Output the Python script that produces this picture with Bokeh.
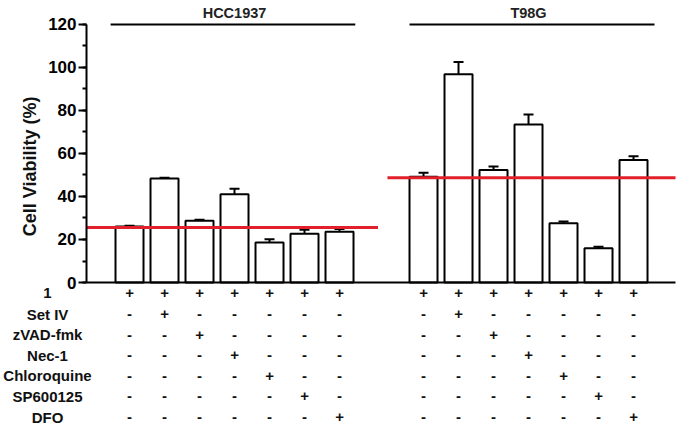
from bokeh.plotting import figure
from bokeh.models import (Range1d, SingleIntervalTicker, FixedTicker, ColumnDataSource,
                          Whisker, TeeHead)
from bokeh.core.properties import value
from bokeh.embed import file_html
from bokeh.resources import INLINE
import math

# ---- data ----
groups = ["HCC1937", "T98G"]
hcc_values = [26.1, 48.4, 28.7, 41.0, 18.6, 22.7, 23.6]
hcc_errors = [0.3, 0.3, 0.5, 2.6, 1.5, 1.8, 1.3]
t98_values = [49.2, 96.9, 52.3, 73.5, 27.6, 15.9, 57.0]
t98_errors = [1.8, 5.6, 1.7, 4.6, 0.8, 0.7, 1.7]
baseline_values = [25.6, 48.7]  # red reference lines
row_labels = ["1", "Set IV", "zVAD-fmk", "Nec-1", "Chloroquine", "SP600125", "DFO"]

FONT = "Liberation Sans"

# bar positions
hcc_x = [1 + i for i in range(7)]
t98_x = [9.4 + i for i in range(7)]
xs = hcc_x + t98_x
vals = hcc_values + t98_values
errs = hcc_errors + t98_errors

ax_left, ax_right = -0.2286, 16.6
p = figure(width=681, height=429, output_backend="svg", toolbar_location=None,
           x_range=Range1d(-2.686, 16.771), y_range=Range1d(-68.37, 131.16),
           min_border_left=0, min_border_right=0, min_border_top=0,
           min_border_bottom=0)
p.title.visible = False
p.outline_line_color = None
p.grid.visible = False
p.background_fill_color = "white"

# y axis, drawn at a fixed position inside the frame
ya = p.yaxis[0]
ya.fixed_location = ax_left
ya.ticker = SingleIntervalTicker(interval=20, num_minor_ticks=2)
ya.bounds = (0, 120)
ya.axis_line_width = 2
ya.major_tick_line_width = 2
ya.minor_tick_line_width = 2
ya.major_tick_out = 8
ya.major_tick_in = 0
ya.minor_tick_out = 4
ya.minor_tick_in = 0
ya.major_label_text_font = FONT
ya.major_label_text_font_style = "bold"
ya.major_label_text_font_size = "17px"
ya.major_label_text_color = "black"
ya.major_label_standoff = 2

# x axis: baseline only
xa = p.xaxis[0]
xa.fixed_location = 0
xa.bounds = (ax_left, ax_right)
xa.ticker = FixedTicker(ticks=[])
xa.axis_line_width = 2
xa.major_tick_line_color = None
xa.minor_tick_line_color = None

# bars
src = ColumnDataSource(dict(x=xs, top=vals, up=[v + e for v, e in zip(vals, errs)]))
p.vbar(x="x", top="top", bottom=0, width=0.8, source=src,
       fill_color="white", line_color="black", line_width=2)
p.add_layout(Whisker(base="x", lower="top", upper="up", source=src,
                     line_width=2, line_color="black", lower_head=None,
                     upper_head=TeeHead(size=10, line_width=2, line_color="black")))

# red reference lines
p.segment(x0=[ax_left, t98_x[0] - 1.03], x1=[hcc_x[-1] + 1.1, ax_right],
          y0=baseline_values, y1=baseline_values,
          line_color="#e2202c", line_width=3)

# group lines and labels
p.segment(x0=[hcc_x[0] - 0.54, t98_x[0] - 0.4], x1=[hcc_x[-1] + 0.45, t98_x[-1] + 0.6],
          y0=[120, 120], y1=[120, 120], line_color="black", line_width=2)
p.text(x=[hcc_x[3], t98_x[3]], y=[125.3, 125.3], text=groups,
       text_font=value(FONT), text_font_style="bold", text_font_size="14.5px",
       text_align="center", text_baseline="middle", text_color="#222222")

# y axis title
p.text(x=[-1.83], y=[54], text=["Cell Viability (%)"], angle=math.pi / 2,
       text_font=value(FONT), text_font_style="bold", text_font_size="18px",
       text_align="center", text_baseline="middle", text_color="#111111")

# treatment table below the axis
row_y = [-5.1 - 9.58 * i for i in range(len(row_labels))]
p.text(x=[-1.343] * len(row_labels), y=row_y, text=row_labels,
       text_font=value(FONT), text_font_style="bold", text_font_size="15px",
       text_align="center", text_baseline="middle", text_color="#111111")

tx, ty, tt = [], [], []
for gx in (hcc_x, t98_x):
    for col, bx in enumerate(gx):
        for r, yy in enumerate(row_y):
            tx.append(bx)
            ty.append(yy)
            tt.append("+" if (r == 0 or r == col) else "-")
p.text(x=tx, y=ty, text=tt, text_font=value(FONT), text_font_style="bold",
       text_font_size="15px", text_align="center", text_baseline="middle",
       text_color="#111111")

open("out.html", "w").write(file_html(p, INLINE))
